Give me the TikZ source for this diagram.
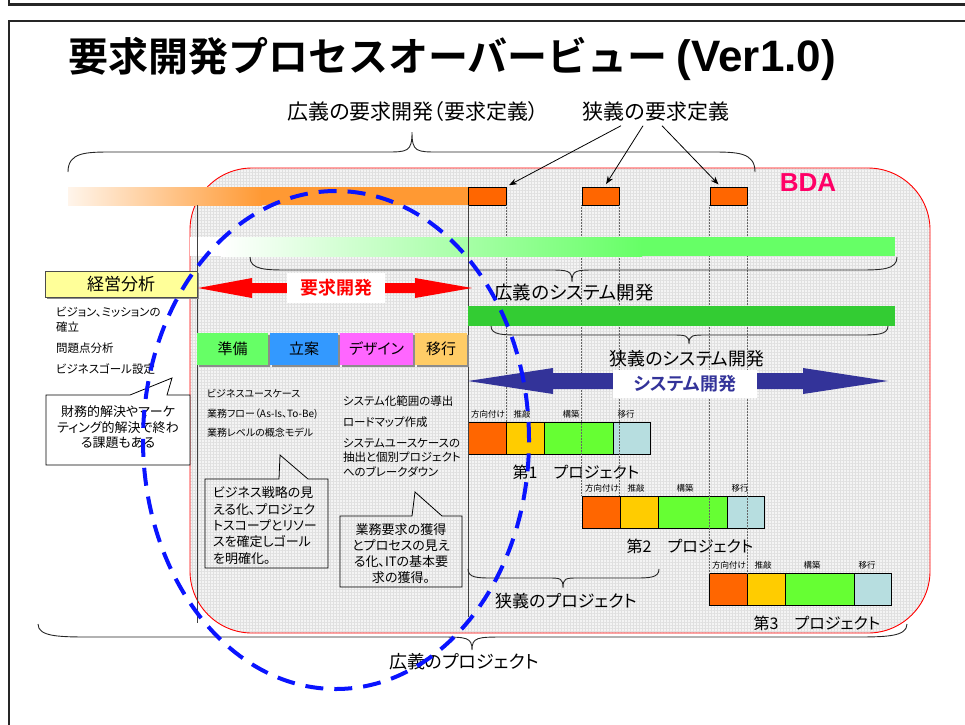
\documentclass[tikz,border=0pt]{standalone}
\usepackage{fontspec}
\setmainfont{Noto Sans CJK JP}[BoldFont={Noto Sans CJK JP Bold},RawFeature=+palt]
\newfontfamily\jpfull{Noto Sans CJK JP}[BoldFont={Noto Sans CJK JP Bold}]
\newfontfamily\arialf{Liberation Sans}
\usetikzlibrary{arrows.meta,patterns.meta,shadows}

\definecolor{borange}{HTML}{FF6600}
\definecolor{lorange}{HTML}{FF9933}
\definecolor{lgreen}{HTML}{66FF66}
\definecolor{dgreen}{HTML}{33CC33}
\definecolor{byellow}{HTML}{FFCC00}
\definecolor{bgreen}{HTML}{66FF33}
\definecolor{lblue}{HTML}{B7DEE0}
\definecolor{navy}{HTML}{333399}
\definecolor{bdapink}{HTML}{FF0066}
\definecolor{tabgreen}{HTML}{66FF66}
\definecolor{tabblue}{HTML}{3399FF}
\definecolor{tabpink}{HTML}{FF66FF}
\definecolor{taborange}{HTML}{FFCC66}
\definecolor{kyellow}{HTML}{FFFF99}
\definecolor{bgray}{HTML}{F4F4F4}
\definecolor{eblue}{HTML}{0A14FF}

\tikzset{
  txt/.style={inner sep=0pt, outer sep=0pt},
  segbox/.style={draw=black, line width=0.8pt, minimum height=32pt, inner sep=0pt, outer sep=0pt, anchor=west},
  seglabel/.style={inner sep=0pt, font=\fontsize{8.5}{10}\selectfont},
  tabbox/.style={inner sep=0pt, minimum height=32pt, font=\fontsize{15}{18}\selectfont,
    drop shadow={shadow xshift=1.5pt, shadow yshift=-1.5pt, fill=black!45, opacity=1}},
  calloutbox/.style={draw=black, line width=0.8pt},
  bracestyle/.style={draw=black!85, line width=0.9pt},
  vline/.style={draw=black!75, line width=0.8pt},
  dotline/.style={draw=black!60, line width=0.5pt, densely dotted},
  ptr/.style={draw=black, line width=0.8pt, -{Stealth[length=8pt,width=6pt]}, shorten >=3pt},
  obox/.style={draw=black, line width=0.8pt, fill=borange, minimum height=18pt, inner sep=0pt},
  bracelabel/.style={inner sep=0pt, font=\fontsize{18}{21}\selectfont},
}

% brace: x1, x2, xtip, yend, ybody, ytip, L
\newcommand{\cbrace}[7]{%
  \draw[bracestyle] (#1,#4) .. controls (#1,#5) and (#1+0.4*#7,#5) .. (#1+#7,#5)
    -- (#3-0.6*#7,#5) .. controls (#3-0.1*#7,#5) and (#3,#5) .. (#3,#6)
    .. controls (#3,#5) and (#3+0.1*#7,#5) .. (#3+0.6*#7,#5)
    -- (#2-#7,#5) .. controls (#2-0.4*#7,#5) and (#2,#5) .. (#2,#4);}

% project bar: name, x, ytop, number
\newcommand{\projbar}[4]{%
  \node[segbox, fill=borange, minimum width=38pt] (#1a) at (#2,#3+16) {};
  \node[segbox, fill=byellow, minimum width=38pt] (#1b) at (#1a.east) {};
  \node[segbox, fill=bgreen, minimum width=69pt] (#1c) at (#1b.east) {};
  \node[segbox, fill=lblue, minimum width=37pt] (#1d) at (#1c.east) {};
  \node[seglabel] (#1la) at (#2+20,#3-8) {方向付け};
  \node[seglabel] (#1lb) at (#2+54,#3-8) {推敲};
  \node[seglabel] (#1lc) at (#2+103,#3-8) {構築};
  \node[seglabel] (#1ld) at (#2+158,#3-8) {移行};
  \node[txt, font=\fontsize{16}{19}\selectfont] (#1n) at (#2+108,#3+50) {第#4　プロジェクト};
}

\begin{document}
\begin{tikzpicture}[x=1pt,y=-1pt]
\useasboundingbox (0,0) rectangle (965,724);

% slide frames
\draw[line width=2.5pt, black!85] (9,-3) -- (9,4.5) -- (970,4.5);
\draw[line width=2pt, black!85] (970,21) -- (9,21) -- (9,730);

% title
\node[anchor=base west, inner sep=0pt] (title) at (68,71)
  {\jpfull\bfseries\fontsize{40}{48}\selectfont 要求開発プロセスオーバービュー {\arialf\bfseries\fontsize{44}{50}\selectfont (Ver1.0)}};

% BDA background
\fill[bgray, rounded corners=62pt] (190,168) rectangle (930,633);
\fill[pattern={Hatch[angle=0,distance=3pt,line width=0.35pt]}, pattern color=black!12, rounded corners=62pt] (190,168) rectangle (930,633);
\draw[red, line width=0.9pt, rounded corners=62pt] (190,168) rectangle (930,633);
\node[txt, font=\arialf\bfseries\fontsize{26}{30}\selectfont, text=bdapink] (bda) at (808,183) {BDA};

% top labels and brace
\node[txt, font=\fontsize{21}{25}\selectfont] (wreq) at (413,112) {広義の要求開発（要求定義）};
\node[txt, font=\fontsize{21}{25}\selectfont] (nreq) at (656,112) {狭義の要求定義};
\cbrace{68}{755}{412}{172}{152}{132}{45}

% orange bar and boxes
\shade[left color=lorange!10!white, right color=lorange] (68,187) rectangle (262,205);
\fill[lorange] (261,187) rectangle (468,205);
\node[obox, minimum width=38pt] (ob1) at (487,196) {};
\node[obox, minimum width=37pt] (ob2) at (600.5,196) {};
\node[obox, minimum width=37pt] (ob3) at (728.5,196) {};
\draw[ptr] ([xshift=-35pt,yshift=-4pt]nreq.south) -- (ob1.north east);
\draw[ptr] ([xshift=-13pt,yshift=-4pt]nreq.south) -- ([xshift=4pt]ob2.north);
\draw[ptr] ([xshift=6pt,yshift=-4pt]nreq.south) -- ([xshift=11pt]ob3.north west);

% project bars
\projbar{pa}{468}{422}{1}
\projbar{pb}{582}{496}{2}
\projbar{pc}{709}{573}{3}

% dotted guide lines (over the project bars, under the green bars and arrows)
\draw[dotline] (ob1.south east) -- (ob1.south east |- paa.north);
\draw[dotline] (ob2.south west) -- (ob2.south west |- pba.north);
\draw[dotline] (ob2.south east) -- (ob2.south east |- pba.north);
\draw[dotline] (ob3.south west) -- (ob3.south west |- pca.north);
\draw[dotline] (ob3.south east) -- (ob3.south east |- pca.north);

% light green bar
\fill[white] (190,237) rectangle (222,256);
\shade[left color=white, right color=lgreen] (221,237) rectangle (642,256);
\fill[lgreen] (641,237) rectangle (895,256);
\cbrace{250}{897}{572}{257}{270}{282}{40}
\node[bracelabel, font=\fontsize{18.5}{22}\selectfont] (wsys) at (574,292) {広義のシステム開発};

% vertical lines
\draw[vline] (197,205) -- (197,623);
\draw[vline] (468,205) -- (468,617);

% management analysis
\node[draw=black!70, line width=0.8pt, fill=kyellow, minimum width=152pt, minimum height=26pt, inner sep=0pt,
  font=\fontsize{17}{20}\selectfont, drop shadow={shadow xshift=1.5pt, shadow yshift=-1.5pt, fill=black!45, opacity=1}] (kei) at (121,284) {経営分析};
\node[txt, anchor=west, align=left, font=\fontsize{11.5}{15}\selectfont] (vis) at (56,319.5) {ビジョン、ミッションの\\確立};
\node[txt, anchor=west, font=\fontsize{11.5}{14}\selectfont] (prob) at (56,348) {問題点分析};
\node[txt, anchor=west, font=\fontsize{11.5}{14}\selectfont] (goal) at (56,369) {ビジネスゴール設定};

% callout 1
\draw[calloutbox, fill=white] (46,395) -- (130,395) -- (172,378) -- (167,395) -- (190,395) -- (190,465) -- (46,465) -- cycle;
\node[txt, align=center, font=\fontsize{13}{15.5}\selectfont] (c1) at (118,427.5) {財務的解決やマーケ\\ティング的解決で終わ\\る課題もある};

% red arrow
\fill[red] (198,288) -- (252,278) -- (252,283) -- (415,283) -- (415,278) -- (472,288) -- (415,298) -- (415,293) -- (252,293) -- (252,298) -- cycle;
\node[fill=white, minimum width=98pt, minimum height=30pt, inner sep=0pt, text=red, font=\bfseries\fontsize{18}{21}\selectfont] (reqdev) at (336,288) {要求開発};

% tabs
\node[tabbox, fill=tabgreen, minimum width=71pt] (tab1) at (232.5,349) {準備};
\node[tabbox, fill=tabblue, minimum width=68pt] (tab2) at (304,349) {立案};
\node[tabbox, fill=tabpink, minimum width=73pt] (tab3) at (376.5,349) {デザイン};
\node[tabbox, fill=taborange, minimum width=52pt] (tab4) at (441,349) {移行};

% column texts
\node[txt, anchor=west, font=\fontsize{10}{12}\selectfont] (t1) at (207,394) {ビジネスユースケース};
\node[txt, anchor=west, font=\fontsize{10}{12}\selectfont] (t2) at (207,414) {業務フロー（As-Is、To-Be)};
\node[txt, anchor=west, font=\fontsize{10}{12}\selectfont] (t3) at (207,433) {業務レベルの概念モデル};
\node[txt, anchor=west, font=\fontsize{11.5}{14}\selectfont] (t4) at (343,401) {システム化範囲の導出};
\node[txt, anchor=west, font=\fontsize{11.5}{14}\selectfont] (t5) at (343,422) {ロードマップ作成};
\node[txt, anchor=west, align=left, font=\fontsize{11.5}{14.5}\selectfont] (t6) at (343,457.5) {システムユースケースの\\抽出と個別プロジェクト\\へのブレークダウン};

% callout 2
\draw[calloutbox] (205,479) -- (279,479) -- (280,455) -- (308,479) -- (328,479) -- (328,568) -- (205,568) -- cycle;
\node[txt, anchor=west, align=left, font=\fontsize{13}{16.3}\selectfont] (c2) at (213,525.5) {ビジネス戦略の見\\える化、プロジェク\\トスコープとリソー\\スを確定しゴール\\を明確化。};

% callout 3
\draw[calloutbox] (340,516) -- (412,516) -- (415,492) -- (442,516) -- (462,516) -- (462,587) -- (340,587) -- cycle;
\node[txt, align=center, font=\fontsize{13}{16}\selectfont] (c3) at (401,554) {業務要求の獲得\\とプロセスの見え\\る化、ITの基本要\\求の獲得。};

% dark green bar and narrow system brace
\fill[dgreen] (468,306) rectangle (895,326);
\cbrace{491}{888}{689}{326}{335}{344}{30}
\node[bracelabel] (nsys) at (687,359) {狭義のシステム開発};

% blue arrow
\fill[navy] (468,381) -- (553,368) -- (553,373) -- (803,373) -- (803,368) -- (888,381) -- (803,394) -- (803,389) -- (553,389) -- (553,394) -- cycle;
\node[fill=white, minimum width=144pt, minimum height=28pt, inner sep=0pt, text=navy, font=\bfseries\fontsize{18}{21}\selectfont] (sysdev) at (685,384) {システム開発};

% project braces
\cbrace{468}{659}{563}{569}{578}{588}{25}
\node[bracelabel, font=\fontsize{17}{20}\selectfont] (nproj) at (566,601) {狭義のプロジェクト};
\cbrace{38}{907}{472}{624}{637}{650}{55}
\node[bracelabel] (wproj) at (464,662) {広義のプロジェクト};

% blue dashed ellipse
\draw[eblue, line width=4pt, dash pattern=on 18pt off 11pt] (336,440) ellipse [x radius=193pt, y radius=249pt];
\end{tikzpicture}
\end{document}
